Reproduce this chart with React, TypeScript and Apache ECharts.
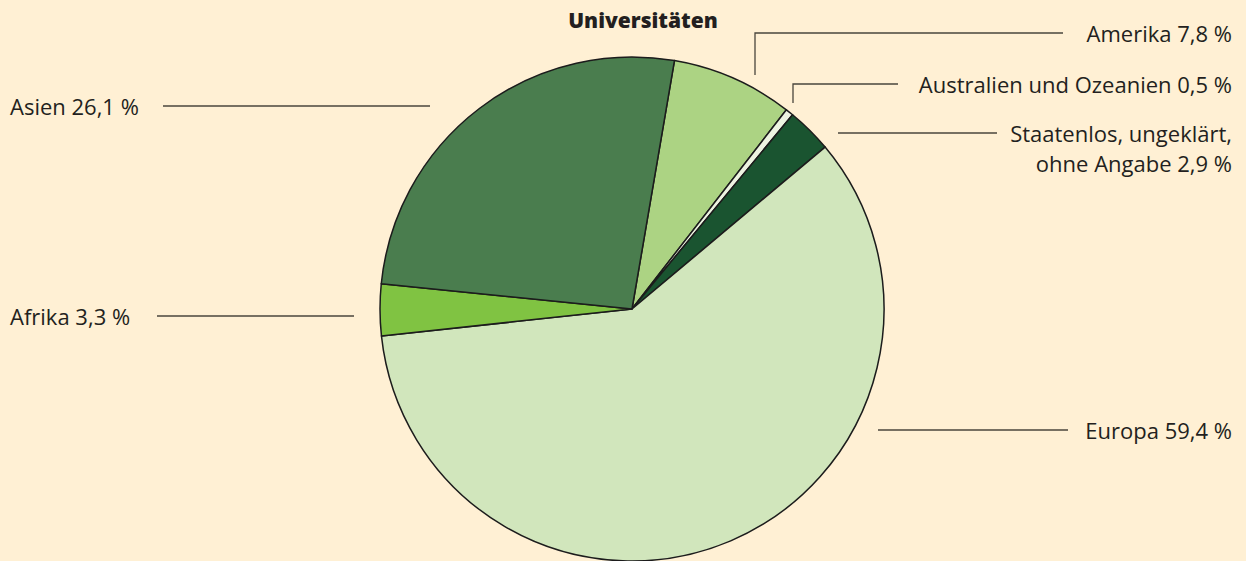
import React, { useEffect, useRef } from "react";
import * as echarts from "echarts";

const categories = [
  "Amerika",
  "Australien und Ozeanien",
  "Staatenlos, ungeklärt,\nohne Angabe",
  "Europa",
  "Afrika",
  "Asien",
];
const values = [7.8, 0.5, 2.9, 59.4, 3.3, 26.1];
const colors = ["#acd383", "#eef4e2", "#1a5430", "#d1e6bc", "#80c342", "#4a7d4e"];
const title = "Universitäten";

// label placement (style only)
const labelPos: { x: number; y: number; align: string; line: number[][] }[] = [
  { x: 1232, y: 33, align: "right", line: [[755, 75], [755, 33], [1063, 33]] },
  { x: 1232, y: 84, align: "right", line: [[793, 103], [793, 84], [898, 84]] },
  { x: 1232, y: 148, align: "right", line: [[838, 133], [900, 133], [997, 133]] },
  { x: 1232, y: 430, align: "right", line: [[878, 430], [970, 430], [1068, 430]] },
  { x: 10, y: 316, align: "left", line: [[354, 316], [250, 316], [157, 316]] },
  { x: 10, y: 106, align: "left", line: [[430, 106], [300, 106], [163, 106]] },
];

const FONT = "'Open Sans', 'Noto Sans', sans-serif";

export default function App() {
  const ref = useRef<HTMLDivElement>(null);
  useEffect(() => {
    if (!ref.current) return;
    const chart = echarts.init(ref.current, null, { renderer: "svg" });
    chart.setOption({
      animation: false,
      backgroundColor: "#fff0d4",
      graphic: [
        {
          type: "text",
          x: 643,
          y: 20,
          style: {
            text: title,
            align: "center",
            verticalAlign: "middle",
            font: `800 21px ${FONT}`,
            fill: "#231f20",
          },
        },
      ],
      series: [
        {
          type: "pie",
          center: [632, 309],
          radius: 252,
          startAngle: 80.3,
          clockwise: true,
          data: categories.map((c, i) => ({
            name: c,
            value: values[i],
            itemStyle: { color: colors[i] },
          })),
          itemStyle: { borderColor: "#1c1c1c", borderWidth: 1.5 },
          label: {
            show: true,
            position: "outside",
            formatter: (p: any) =>
              `${p.name} ${p.value.toFixed(1).replace(".", ",")} %`,
            color: "#231f20",
            fontSize: 22,
            fontFamily: FONT,
            lineHeight: 30,
          },
          labelLine: {
            show: true,
            lineStyle: { color: "#4a463d", width: 1.3 },
          },
          labelLayout: (params: any) => {
            const p = labelPos[params.dataIndex];
            return {
              x: p.x,
              y: p.y,
              align: p.align,
              verticalAlign: "middle",
              labelLinePoints: p.line,
            };
          },
          emphasis: { disabled: true },
        },
      ],
    });
    return () => chart.dispose();
  }, []);
  return (
    <div
      ref={ref}
      style={{ position: "absolute", left: 0, top: 0, width: 1246, height: 561 }}
    />
  );
}
